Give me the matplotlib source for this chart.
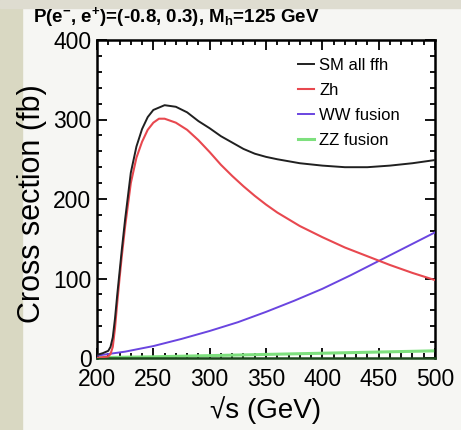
import matplotlib
matplotlib.use('Agg')
import matplotlib.pyplot as plt
from matplotlib.patches import Rectangle
from matplotlib.ticker import MultipleLocator

plt.rcParams['font.family'] = ['Liberation Sans', 'DejaVu Sans']
plt.rcParams['mathtext.fontset'] = 'custom'
plt.rcParams['mathtext.rm'] = 'Liberation Sans:bold'
plt.rcParams['mathtext.it'] = 'Liberation Sans:bold'
plt.rcParams['mathtext.bf'] = 'Liberation Sans:bold'

# sqrt(s) in GeV and cross sections in fb
sm_energy = [200, 205, 210, 212, 214, 216, 218, 220, 222, 225, 230, 235, 240, 245, 250, 260,
             270, 280, 290, 300, 310, 320, 330, 340, 350, 360, 380, 400, 420, 440, 460, 480, 500]
sm_all = [4, 6, 9, 14, 26, 50, 80, 108, 136, 175, 233, 266, 288, 303, 312, 318,
          316, 309, 298, 289, 279, 271, 263, 257, 253, 250, 245, 242, 240, 240, 242, 245, 249]

zh_energy = [200, 205, 210, 212, 214, 216, 218, 220, 222, 225, 230, 235, 240, 245, 250, 255, 260,
             270, 280, 290, 300, 310, 320, 330, 340, 350, 360, 380, 400, 420, 440, 460, 480, 500]
zh = [0, 1, 2, 5, 14, 38, 70, 100, 128, 166, 220, 252, 272, 287, 296, 301, 301,
      296, 287, 274, 259, 243, 229, 216, 204, 193, 183, 166, 152, 139, 128, 117, 107, 98]

ww_energy = [200, 225, 250, 275, 300, 325, 350, 375, 400, 425, 450, 475, 500]
ww_fusion = [3, 8, 15, 24, 34, 45, 58, 72, 87, 104, 122, 140, 158]

zz_energy = [200, 250, 300, 350, 400, 450, 500]
zz_fusion = [0.5, 1.5, 3, 4.5, 6, 7.5, 9]

fig = plt.figure(figsize=(4.61, 4.30), dpi=100, facecolor='#f6f6f3')
fig.patches.append(Rectangle((0, 0), 22 / 461, 1, transform=fig.transFigure,
                             color='#d9d8c2', zorder=-1))
fig.patches.append(Rectangle((0, 1 - 8 / 430), 1, 8 / 430, transform=fig.transFigure,
                             color='#dedcd0', zorder=-1))

ax = fig.add_axes([97 / 461, 1 - 358 / 430, 338 / 461, 318 / 430])

ax.plot(zz_energy, zz_fusion, color='#7ee07e', lw=2.2, label='ZZ fusion', zorder=2)
ax.plot(ww_energy, ww_fusion, color='#6a45e0', lw=1.4, label='WW fusion', zorder=3)
ax.plot(zh_energy, zh, color='#e8484f', lw=1.5, label='Zh', zorder=4)
ax.plot(sm_energy, sm_all, color='#202020', lw=1.4, label='SM all ffh', zorder=5)

ax.set_xlim(200, 500)
ax.set_ylim(0, 400)
ax.xaxis.set_major_locator(MultipleLocator(50))
ax.xaxis.set_minor_locator(MultipleLocator(10))
ax.yaxis.set_major_locator(MultipleLocator(100))
ax.yaxis.set_minor_locator(MultipleLocator(20))
ax.tick_params(which='both', direction='in', top=True, right=True, labelsize=16.5,
               width=1.3)
ax.tick_params(axis='x', pad=7)
ax.tick_params(axis='y', pad=4)
ax.tick_params(which='major', length=7)
ax.tick_params(which='minor', length=3.5)
for side in ax.spines.values():
    side.set_linewidth(1.8)
ax.spines['bottom'].set_color('#1d4a1d')

handles, labels = ax.get_legend_handles_labels()
order = [3, 2, 1, 0]
leg = ax.legend([handles[i] for i in order], [labels[i] for i in order],
                loc='upper right', bbox_to_anchor=((400 - 97) / 338, (358 - 58) / 318),
                frameon=False, fontsize=12, handlelength=1.0, handletextpad=0.3,
                labelspacing=0.6, borderaxespad=0, borderpad=0)

ax.set_xlabel('√s (GeV)', fontsize=20, labelpad=4)
ax.set_ylabel('Cross section (fb)', fontsize=22)
ax.yaxis.set_label_coords(-(97 - 47) / 338, 0.485)
fig.text(33 / 461, 1 - 17 / 430,
         r'P(e$^{-}$, e$^{+}$)=(-0.8, 0.3), M$_{h}$=125 GeV',
         fontsize=13.5, fontweight='bold', va='center', ha='left')

fig.savefig('out.png', dpi=100, facecolor=fig.get_facecolor())
